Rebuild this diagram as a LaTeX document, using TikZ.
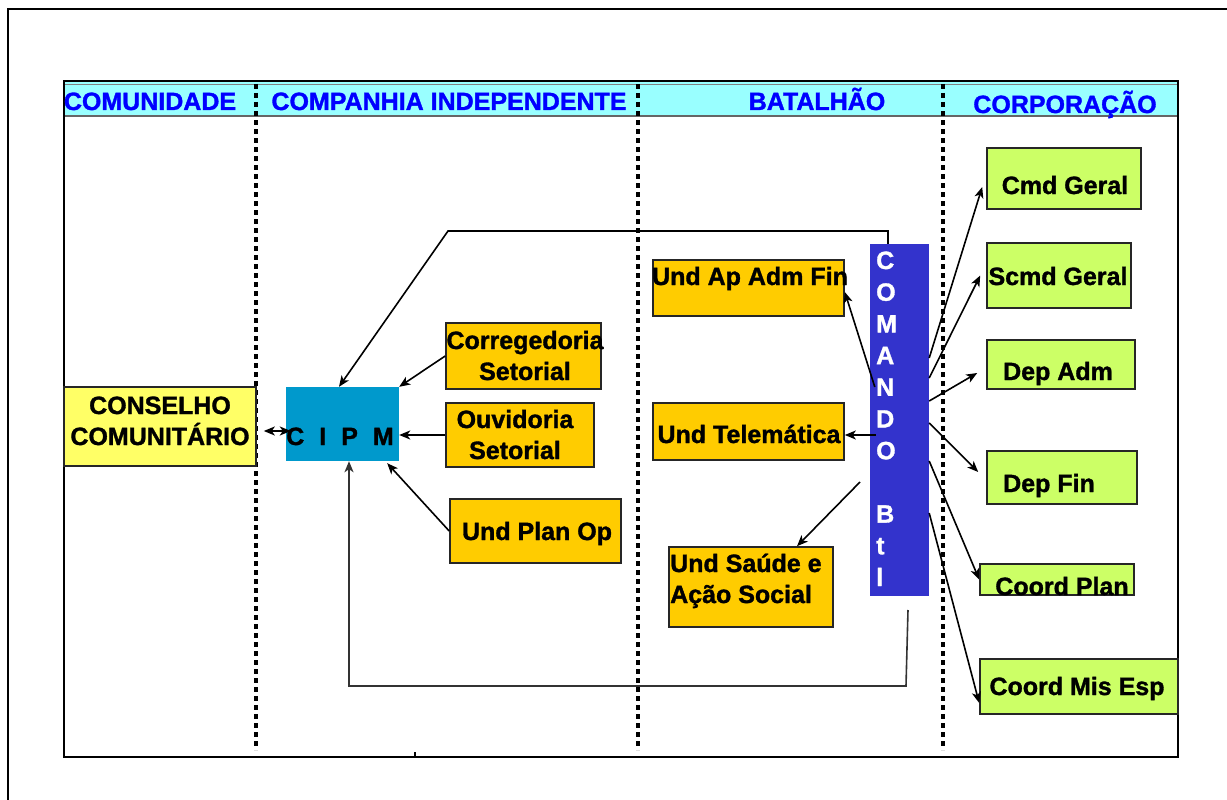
\documentclass[tikz,border=0pt]{standalone}
\usepackage{fontspec}
\setmainfont{Liberation Sans}[BoldFont={Liberation Sans Bold}, BoldFeatures={FakeBold=1.3}]
\usetikzlibrary{arrows.meta}

\definecolor{faixa}{HTML}{99FFFF}
\definecolor{azultitulo}{HTML}{0000FF}
\definecolor{amarelo}{HTML}{FFFF66}
\definecolor{azulcipm}{HTML}{0099CC}
\definecolor{laranja}{HTML}{FFCC00}
\definecolor{azulcmd}{HTML}{3333CC}
\definecolor{lima}{HTML}{CCFF66}

\begin{document}
\begin{tikzpicture}[x=1pt, y=-1pt,
    >={Stealth[length=11pt, width=9pt, inset=3pt]},
    caixa/.style={draw=black!85, line width=1.6pt, inner sep=0pt},
    rotulo/.style={font=\fontsize{25}{31}\selectfont\bfseries, anchor=base, inner sep=0pt, align=center},
    cabecalho/.style={rotulo, text=azultitulo},
    seta/.style={->, line width=1.6pt},
    divisa/.style={line width=3.5pt, dash pattern=on 5pt off 4pt}]
  \useasboundingbox (0,0) rectangle (1227,800);

  % Outer frame
  \draw[line width=2.5pt] (8,805) -- (8,9) -- (1232,9);

  % Table with the header band
  \fill[faixa] (64,82) rectangle (1178,116);
  \draw[black!50, line width=1pt] (64,84.5) -- (1178,84.5);
  \draw[black!60, line width=1.5pt] (64,116) -- (1178,116);
  \draw[line width=2.2pt] (64,81) rectangle (1178,757);
  \draw[line width=1.2pt] (415,752) -- (415,757);

  % Column dividers
  \foreach \x in {256,638,943}
    \draw[divisa] (\x,84) -- (\x,750);

  % Column titles
  \node[cabecalho] (comunidade) at (150,110) {COMUNIDADE};
  \node[cabecalho] (companhia) at (449,110) {COMPANHIA INDEPENDENTE};
  \node[cabecalho] (batalhao) at (817,110) {BATALHÃO};
  \node[cabecalho] (corporacao) at (1065,113) {CORPORAÇÃO};

  % Boxes
  \node[caixa, fill=amarelo, minimum width=192pt, minimum height=79pt] (conselho) at (160,426.5) {};
  \node[fill=azulcipm, inner sep=0pt, minimum width=113pt, minimum height=74pt] (cipm) at (342.5,424) {};
  \node[caixa, fill=laranja, minimum width=155pt, minimum height=66pt] (correg) at (523.5,356) {};
  \node[caixa, fill=laranja, minimum width=148pt, minimum height=64pt] (ouvid) at (520,435) {};
  \node[caixa, fill=laranja, minimum width=171pt, minimum height=64pt] (planop) at (535.5,531) {};
  \node[caixa, fill=laranja, minimum width=191pt, minimum height=56pt] (apadm) at (748.5,288) {};
  \node[caixa, fill=laranja, minimum width=191pt, minimum height=57pt] (telem) at (748.5,431.5) {};
  \node[caixa, fill=laranja, minimum width=164pt, minimum height=80pt] (saude) at (751,587) {};
  \node[fill=azulcmd, inner sep=0pt, minimum width=59pt, minimum height=352pt] (comando) at (899.5,420) {};
  \node[caixa, fill=lima, minimum width=154pt, minimum height=61pt] (cmdgeral) at (1064,178.5) {};
  \node[caixa, fill=lima, minimum width=144pt, minimum height=65pt] (scmd) at (1059,275.5) {};
  \node[caixa, fill=lima, minimum width=148pt, minimum height=49pt] (depadm) at (1061,364.5) {};
  \node[caixa, fill=lima, minimum width=150pt, minimum height=53pt] (depfin) at (1062,477.5) {};
  \node[caixa, fill=lima, minimum width=154pt, minimum height=31pt] (coordplan) at (1057,579.5) {};
  \node[caixa, fill=lima, minimum width=198pt, minimum height=55pt] (coordmis) at (1079,686.5) {};

  % Box texts (two-line nodes sit on the baseline of their last line)
  \node[rotulo] (conselho-txt) at (160,445) {CONSELHO\\COMUNITÁRIO};
  \node[rotulo] (cipm-txt) at (340,445) {C\hspace{15pt}I\hspace{15pt}P\hspace{15pt}M};
  \node[rotulo] (correg-txt) at (525,380) {Corregedoria\\Setorial};
  \node[rotulo] (ouvid-txt) at (515,459) {Ouvidoria\\Setorial};
  \node[rotulo] (planop-txt) at (537,540) {Und Plan Op};
  \node[rotulo] (apadm-txt) at (750,285) {Und Ap Adm Fin};
  \node[rotulo] (telem-txt) at (749,443) {Und Telemática};
  \node[rotulo, anchor=base west, align=left] (saude-txt) at (670,603) {Und Saúde e\\Ação Social};
  \node[rotulo] (cmdgeral-txt) at (1065,194) {Cmd Geral};
  \node[rotulo] (scmd-txt) at (1058,285) {Scmd Geral};
  \node[rotulo] (depadm-txt) at (1058,380) {Dep Adm};
  \node[rotulo] (depfin-txt) at (1049,492) {Dep Fin};
  \node[rotulo] (coordplan-txt) at (1062,595) {Coord Plan};
  \node[rotulo] (coordmis-txt) at (1077,695) {Coord Mis Esp};

  % Vertical letters of the command bar
  \foreach \k/\ch in {0/C,1/O,2/M,3/A,4/N,5/D,6/O,8/B,9/t,10/l}
    \node[rotulo, anchor=base west, text=white] (cmd-\k) at (876,269+31.7*\k) {\ch};

  % Community council and CIPM
  \draw[seta, <->] ([xshift=7pt,yshift=-4.5pt]conselho.east) -- ([xshift=5pt,yshift=-7pt]cipm.west);

  % Company units into the CIPM
  \draw[seta] (correg.west) -- (cipm.north east);
  \draw[seta] (ouvid.west) -- ([yshift=-11pt]cipm.east);
  \draw[seta] (planop.west) -- ([xshift=-12pt,yshift=-2pt]cipm.south east);

  % Command lines back to the CIPM
  \coordinate (dobra) at (448,231);
  \draw[seta] ([xshift=-11.5pt]comando.north) |- (dobra) -- ([xshift=-3.5pt]cipm.north);
  \coordinate (retorno) at (908,610);
  \coordinate (canto) at (906,686);
  \draw[seta, black!80] (retorno) -- (canto) -| ([xshift=6.5pt]cipm.south);

  % Battalion units
  \draw[seta] ([xshift=5pt,yshift=33pt]comando.west) -- ([yshift=-4pt]apadm.east);
  \draw[seta] ([xshift=6pt,yshift=-15pt]comando.west) -- ([yshift=-3.5pt]telem.east);
  \coordinate (saudeini) at (860,482);
  \draw[seta] (saudeini) -- ([xshift=46pt]saude.north);

  % Corporation
  \draw[seta] ([yshift=62pt]comando.east) -- ([xshift=-4pt,yshift=-8.5pt]cmdgeral.west);
  \draw[seta] ([yshift=42pt]comando.east) -- ([xshift=-6pt]scmd.west);
  \draw[seta] ([yshift=19pt]comando.east) -- ([xshift=-9pt,yshift=-8.5pt]depadm.west);
  \draw[seta] ([yshift=-3pt]comando.east) -- ([xshift=-8pt,yshift=5.5pt]depfin.west);
  \draw[seta] ([yshift=-41pt]comando.east) -- (coordplan.west);
  \draw[seta] ([yshift=-93pt]comando.east) -- ([yshift=-16.5pt]coordmis.west);
\end{tikzpicture}
\end{document}
